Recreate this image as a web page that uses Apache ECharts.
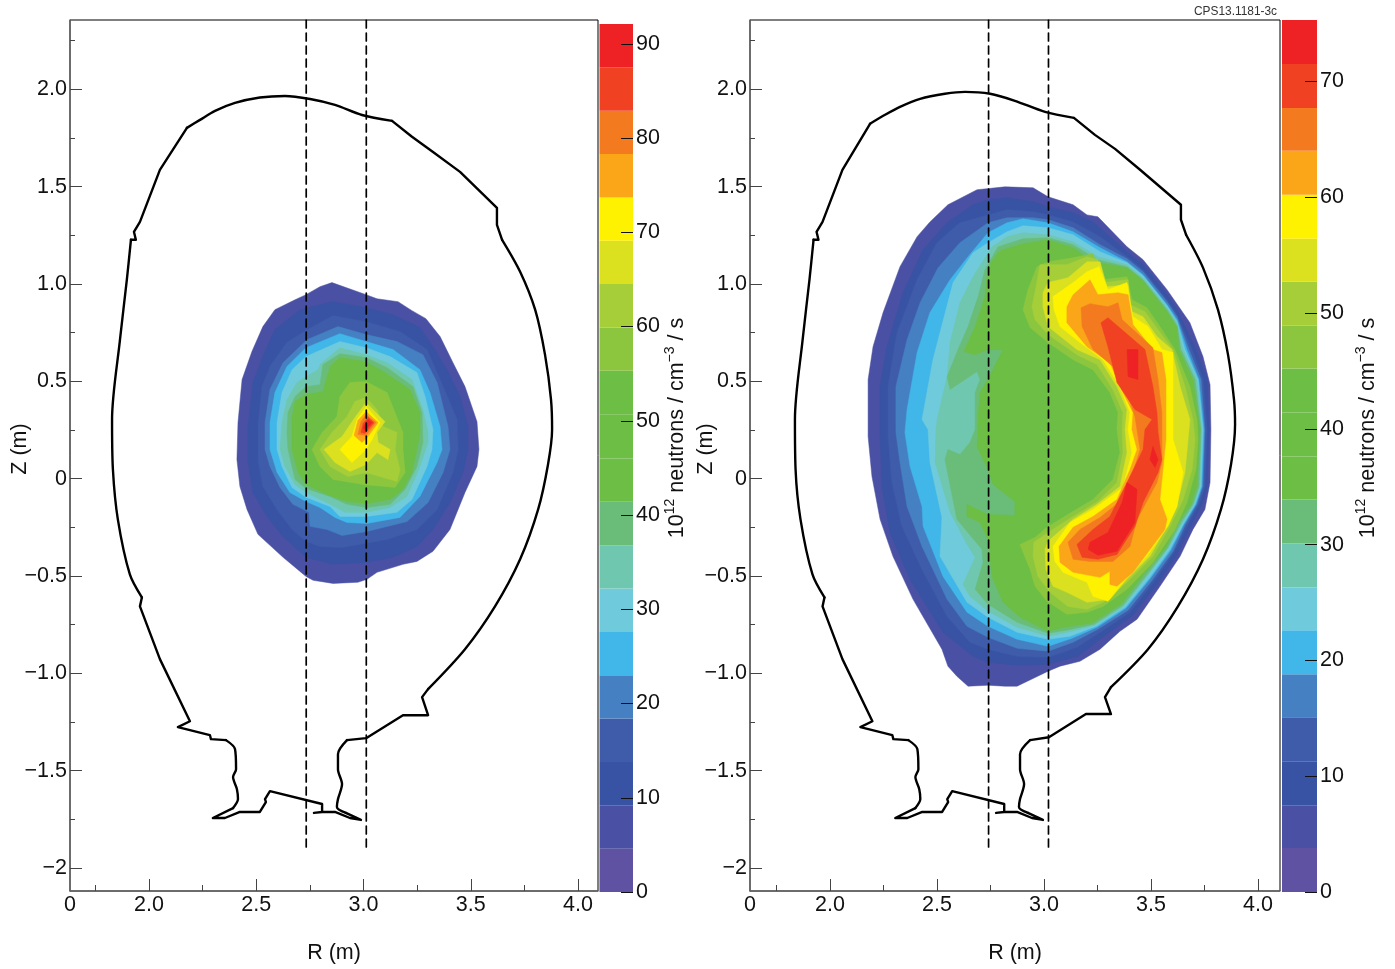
<!DOCTYPE html>
<html><head><meta charset="utf-8">
<style>html,body{margin:0;padding:0;background:#fff}#c{width:1395px;height:969px}</style>
<script src="https://cdn.jsdelivr.net/npm/echarts@6/dist/echarts.min.js"></script>
</head><body><div id="c"></div>
<script>
const colorSteps=['#5F52A3','#4A50A3','#3953A4','#3F5CAB','#4580C3','#41B6E9','#6FCBDC','#6FC7B0','#6ABD78','#6CBE45','#6CBE45','#6CBE45','#8CC63F','#A6CE39','#DBE11F','#FFF200','#FBA619','#F47A20','#F04123','#EE2224'];
const barEdgesLeft=[0,4.6,9.2,13.8,18.4,23.0,27.6,32.2,36.8,41.4,46.0,50.7,55.3,59.9,64.5,69.1,73.7,78.3,82.9,87.5,92.1];
const barEdgesRight=[0,3.8,7.5,11.3,15.1,18.8,22.6,26.3,30.1,33.9,37.6,41.4,45.2,48.9,52.7,56.4,60.2,64.0,67.7,71.5,75.3];
const barTicksLeft=[0,10,20,30,40,50,60,70,80,90];
const barTicksRight=[0,10,20,30,40,50,60,70];
const rTicks=[2,2.5,3,3.5,4];
const rMinor=[1.75,2.25,2.75,3.25,3.75];
const zTicks=[2,1.5,1,0.5,0,-0.5,-1,-1.5,-2];
const zMinor=[2.25,1.75,1.25,0.75,0.25,-0.25,-0.75,-1.25,-1.75];
const dashLeft=[2.733,3.013];
const dashRight=[2.741,3.021];
const dashZ=[2.356,-1.905];

const wallLeft=[[2.177,1.802],[2.238,1.843],[2.308,1.889],[2.401,1.930],[2.517,1.958],[2.634,1.966],[2.751,1.950],[2.867,1.920],[2.993,1.868],[3.133,1.838],[3.226,1.756],[3.324,1.678],[3.450,1.576],[3.622,1.391],[3.622,1.304],[3.646,1.227],[3.730,1.063],[3.800,.868],[3.846,.637],[3.874,.406],[3.879,.252],[3.860,.073],[3.814,-.158],[3.730,-.414],[3.613,-.656],[3.473,-.876],[3.301,-1.081],[3.273,-1.122],[3.301,-1.215],[3.184,-1.215],[3.012,-1.333],[2.923,-1.343],[2.881,-1.415],[2.881,-1.492],[2.900,-1.569],[2.881,-1.646],[2.876,-1.686],[2.918,-1.717],[2.988,-1.753],[2.937,-1.743],[2.867,-1.712],[2.807,-1.712],[2.769,-1.717],[2.807,-1.712],[2.807,-1.671],[2.564,-1.605],[2.541,-1.646],[2.545,-1.661],[2.517,-1.712],[2.424,-1.712],[2.354,-1.743],[2.298,-1.743],[2.392,-1.692],[2.415,-1.646],[2.410,-1.595],[2.392,-1.533],[2.406,-1.492],[2.401,-1.389],[2.359,-1.343],[2.289,-1.338],[2.284,-1.317],[2.135,-1.276],[2.191,-1.246],[2.051,-.927],[1.958,-.656],[1.967,-.610],[1.911,-.492],[1.855,-.209],[1.832,.047],[1.828,.304],[1.865,.714],[1.897,1.022],[1.916,1.227],[1.939,1.227],[1.930,1.268],[1.958,1.319],[2.051,1.586],[2.177,1.802]];
const wallRight=[[2.187,1.823],[2.257,1.869],[2.327,1.910],[2.421,1.951],[2.537,1.977],[2.631,1.987],[2.748,1.977],[2.864,1.941],[3.005,1.884],[3.140,1.853],[3.238,1.766],[3.332,1.694],[3.449,1.587],[3.640,1.407],[3.640,1.330],[3.664,1.253],[3.743,1.084],[3.813,.868],[3.860,.637],[3.888,.406],[3.893,.278],[3.874,.073],[3.827,-.158],[3.743,-.414],[3.626,-.656],[3.486,-.876],[3.313,-1.071],[3.285,-1.122],[3.313,-1.209],[3.196,-1.209],[3.023,-1.328],[2.935,-1.343],[2.888,-1.415],[2.888,-1.492],[2.907,-1.569],[2.888,-1.646],[2.883,-1.686],[2.925,-1.717],[2.995,-1.753],[2.944,-1.743],[2.874,-1.712],[2.814,-1.712],[2.776,-1.717],[2.814,-1.712],[2.814,-1.671],[2.571,-1.605],[2.548,-1.646],[2.552,-1.661],[2.524,-1.712],[2.431,-1.712],[2.361,-1.743],[2.305,-1.743],[2.399,-1.692],[2.422,-1.646],[2.417,-1.595],[2.399,-1.533],[2.413,-1.492],[2.408,-1.389],[2.366,-1.343],[2.296,-1.338],[2.291,-1.317],[2.142,-1.276],[2.198,-1.246],[2.058,-.927],[1.965,-.656],[1.974,-.610],[1.918,-.492],[1.862,-.209],[1.839,.047],[1.836,.304],[1.872,.714],[1.904,1.022],[1.923,1.227],[1.946,1.227],[1.937,1.268],[1.965,1.319],[2.058,1.586],[2.187,1.823]];
// Which stretches of the wall are curved and which are straight: [from, to, curved]
const wallPieces=[[0,9,true],[9,15,false],[15,26,true],[26,31,false],[31,37,true],[37,52,false],[52,58,true],[58,65,false],[65,72,true],[72,77,false]];

// Left panel: contour bands, [colour step, outline in (R, Z)]
const leftStep2=[[2.853,1.007],[3.012,.945],[3.063,.924],[3.161,.909],[3.226,.863],[3.291,.822],[3.357,.730],[3.417,.596],[3.473,.473],[3.529,.293],[3.538,.150],[3.529,.063],[3.473,-.071],[3.403,-.261],[3.324,-.373],[3.249,-.425],[3.184,-.440],[3.063,-.481],[3.016,-.517],[2.974,-.532],[2.858,-.538],[2.765,-.522],[2.732,-.502],[2.625,-.404],[2.508,-.286],[2.457,-.158],[2.424,-.040],[2.410,.098],[2.415,.288],[2.434,.509],[2.480,.653],[2.531,.781],[2.587,.868],[2.681,.919],[2.732,.945],[2.797,.986]];
const leftStep3=[[2.853,.909],[3.012,.878],[3.138,.842],[3.263,.776],[3.324,.678],[3.389,.560],[3.450,.422],[3.487,.268],[3.487,.150],[3.464,.032],[3.403,-.122],[3.324,-.261],[3.249,-.348],[3.138,-.404],[3.012,-.430],[2.858,-.440],[2.732,-.404],[2.625,-.297],[2.550,-.194],[2.485,-.071],[2.462,.083],[2.462,.268],[2.485,.494],[2.531,.627],[2.587,.765],[2.704,.868]];
const leftStep4=[[2.858,.837],[3.012,.806],[3.170,.755],[3.296,.663],[3.357,.509],[3.436,.304],[3.441,.150],[3.417,.032],[3.343,-.158],[3.249,-.261],[3.110,-.312],[2.900,-.353],[2.797,-.348],[2.732,-.322],[2.667,-.261],[2.597,-.158],[2.531,-.040],[2.508,.098],[2.508,.268],[2.527,.473],[2.564,.576],[2.643,.699],[2.737,.765]];
const leftStep5=[[2.881,.781],[3.012,.740],[3.156,.704],[3.277,.637],[3.343,.494],[3.394,.268],[3.403,.150],[3.371,.032],[3.301,-.122],[3.203,-.220],[3.016,-.271],[2.900,-.292],[2.830,-.261],[2.751,-.245],[2.746,-.173],[2.671,-.132],[2.611,-.045],[2.564,.063],[2.541,.150],[2.541,.288],[2.564,.458],[2.625,.596],[2.737,.714]];
const leftStep6=[[2.890,.745],[3.012,.704],[3.138,.663],[3.263,.560],[3.310,.442],[3.357,.268],[3.366,.150],[3.343,.083],[3.263,-.091],[3.170,-.199],[3.016,-.230],[2.923,-.225],[2.867,-.199],[2.797,-.148],[2.732,-.117],[2.657,-.071],[2.597,.032],[2.564,.150],[2.564,.288],[2.587,.442],[2.643,.576],[2.732,.673]];
const leftStep7=[[2.890,.704],[3.012,.673],[3.124,.627],[3.249,.545],[3.287,.422],[3.324,.252],[3.319,.150],[3.296,.063],[3.226,-.107],[3.156,-.173],[3.016,-.194],[2.890,-.194],[2.844,-.143],[2.732,-.096],[2.667,-.045],[2.620,.063],[2.597,.150],[2.597,.288],[2.620,.442],[2.667,.560],[2.732,.627]];
const leftStep8=[[2.890,.673],[3.012,.637],[3.110,.596],[3.226,.509],[3.277,.355],[3.301,.237],[3.301,.186],[3.263,.063],[3.203,-.091],[3.124,-.148],[3.016,-.173],[2.914,-.173],[2.844,-.132],[2.732,-.071],[2.681,-.030],[2.634,.063],[2.611,.150],[2.620,.288],[2.643,.406],[2.690,.494],[2.732,.524],[2.788,.560],[2.797,.586]];
const leftStep9=[[2.890,.642],[2.811,.586],[2.797,.483],[2.732,.473],[2.681,.422],[2.648,.340],[2.643,.237],[2.648,.150],[2.681,-.004],[2.732,-.050],[2.844,-.091],[2.923,-.132],[3.016,-.148],[3.124,-.132],[3.194,-.055],[3.249,.063],[3.277,.186],[3.273,.340],[3.231,.473],[3.110,.570],[3.012,.622]];
const leftStep10=[[2.890,.622],[3.012,.601],[3.091,.550],[3.217,.458],[3.263,.340],[3.263,.237],[3.249,.150],[3.226,.032],[3.184,-.055],[3.124,-.107],[3.016,-.127],[2.923,-.117],[2.830,-.081],[2.732,-.030],[2.695,.032],[2.667,.150],[2.667,.319],[2.681,.396],[2.732,.432],[2.811,.447],[2.844,.576]];
const leftStep13=[[2.937,.494],[2.890,.422],[2.876,.319],[2.807,.237],[2.760,.150],[2.797,.063],[2.858,-.004],[2.998,-.030],[3.147,-.045],[3.194,.032],[3.184,.150],[3.184,.237],[3.110,.442],[3.012,.499]];
const leftStep14=[[3.012,.417],[2.960,.396],[2.923,.319],[2.853,.237],[2.797,.150],[2.844,.063],[2.928,.011],[3.012,.032],[3.077,.011],[3.156,-.014],[3.170,.047],[3.147,.150],[3.156,.237],[3.091,.268],[3.063,.355]];
const leftStep15=[[3.012,.391],[2.960,.314],[2.900,.216],[2.816,.150],[2.867,.083],[2.937,.037],[3.012,.073],[3.063,.134],[3.114,.098],[3.124,.150],[3.068,.186],[3.063,.237],[3.100,.293]];
const leftStep16=[[3.012,.370],[2.970,.304],[2.946,.216],[2.890,.150],[2.946,.083],[3.012,.150],[3.040,.201],[3.077,.288]];
const leftStep17=[[3.012,.345],[3.068,.288],[3.021,.216],[2.993,.186],[2.956,.222],[2.974,.299]];
const leftStep18=[[3.012,.329],[3.058,.288],[3.012,.222],[2.974,.227],[2.988,.293]];
const leftStep19=[[3.021,.314],[3.049,.288],[3.007,.232],[2.988,.237],[2.998,.283]];
const leftStep20=[[3.021,.304],[3.040,.288],[3.007,.247],[2.998,.263]];
const leftBands=[[1,leftStep2],[2,leftStep3],[3,leftStep4],[4,leftStep5],[5,leftStep6],[6,leftStep7],[7,leftStep8],[8,leftStep9],[9,leftStep10],[12,leftStep13],[13,leftStep14],[14,leftStep15],[15,leftStep16],[16,leftStep17],[17,leftStep18],[18,leftStep19],[19,leftStep20]];

// Right panel
const rightStep2=[[2.818,1.499],[2.949,1.494],[3.019,1.448],[3.136,1.407],[3.201,1.355],[3.252,1.345],[3.388,1.191],[3.463,1.125],[3.575,.971],[3.682,.801],[3.743,.627],[3.776,.483],[3.780,.252],[3.776,-.020],[3.752,-.158],[3.696,-.261],[3.636,-.399],[3.542,-.553],[3.435,-.722],[3.355,-.784],[3.262,-.876],[3.168,-.938],[3.075,-.963],[3.019,-.989],[2.874,-1.066],[2.818,-1.066],[2.738,-1.061],[2.645,-1.066],[2.593,-1.015],[2.551,-.963],[2.523,-.876],[2.388,-.620],[2.294,-.399],[2.234,-.209],[2.196,.011],[2.178,.216],[2.178,.509],[2.201,.678],[2.248,.853],[2.327,1.089],[2.407,1.243],[2.467,1.319],[2.551,1.407],[2.687,1.484]];
const rightStep3=[[2.827,1.443],[2.949,1.422],[3.019,1.396],[3.136,1.366],[3.229,1.319],[3.388,1.166],[3.463,1.099],[3.575,.945],[3.622,.868],[3.710,.663],[3.762,.509],[3.771,.252],[3.762,-.040],[3.743,-.122],[3.682,-.250],[3.622,-.389],[3.528,-.543],[3.416,-.702],[3.262,-.825],[3.159,-.912],[3.019,-.953],[2.874,-.958],[2.738,-.943],[2.668,-.912],[2.528,-.789],[2.374,-.517],[2.280,-.276],[2.243,-.040],[2.234,.216],[2.234,.473],[2.266,.678],[2.341,.955],[2.435,1.176],[2.547,1.314],[2.668,1.407],[2.738,1.432]];
const rightStep4=[[2.827,1.381],[2.949,1.371],[3.019,1.355],[3.136,1.319],[3.262,1.243],[3.388,1.140],[3.463,1.073],[3.575,.919],[3.622,.842],[3.692,.663],[3.743,.509],[3.762,.252],[3.752,-.040],[3.724,-.132],[3.668,-.245],[3.607,-.379],[3.514,-.527],[3.402,-.686],[3.262,-.789],[3.154,-.866],[3.019,-.917],[2.874,-.912],[2.738,-.876],[2.654,-.840],[2.547,-.707],[2.430,-.466],[2.336,-.245],[2.290,-.020],[2.271,.216],[2.271,.473],[2.313,.750],[2.407,1.022],[2.500,1.212],[2.607,1.314],[2.738,1.355]];
const rightStep5=[[2.827,1.340],[2.949,1.340],[3.019,1.330],[3.136,1.289],[3.262,1.202],[3.388,1.130],[3.463,1.063],[3.575,.909],[3.622,.832],[3.678,.663],[3.734,.509],[3.752,.252],[3.743,-.040],[3.715,-.132],[3.659,-.240],[3.603,-.373],[3.505,-.522],[3.393,-.676],[3.252,-.773],[3.136,-.840],[3.019,-.886],[2.874,-.871],[2.738,-.815],[2.640,-.758],[2.547,-.620],[2.430,-.348],[2.360,-.143],[2.327,.083],[2.308,.237],[2.308,.473],[2.360,.714],[2.421,.904],[2.505,1.083],[2.607,1.212],[2.738,1.314]];
const rightStep6=[[2.902,1.335],[3.019,1.314],[3.136,1.268],[3.262,1.186],[3.388,1.114],[3.463,1.048],[3.575,.893],[3.622,.817],[3.668,.663],[3.724,.509],[3.748,.252],[3.738,-.040],[3.710,-.132],[3.654,-.235],[3.593,-.368],[3.495,-.515],[3.383,-.666],[3.248,-.763],[3.131,-.820],[3.019,-.861],[2.874,-.825],[2.738,-.758],[2.640,-.686],[2.528,-.502],[2.435,-.245],[2.430,-.143],[2.374,.063],[2.350,.237],[2.360,.355],[2.407,.648],[2.467,.853],[2.561,1.022],[2.645,1.140],[2.738,1.263],[2.827,1.314]];
const rightStep7=[[2.902,1.299],[3.019,1.289],[3.136,1.253],[3.262,1.166],[3.388,1.109],[3.463,1.042],[3.575,.888],[3.622,.806],[3.659,.663],[3.720,.509],[3.743,.252],[3.734,-.040],[3.706,-.132],[3.650,-.235],[3.589,-.363],[3.491,-.512],[3.379,-.661],[3.243,-.758],[3.122,-.809],[3.019,-.825],[2.874,-.789],[2.738,-.712],[2.640,-.635],[2.514,-.399],[2.523,-.199],[2.467,.083],[2.458,.252],[2.430,.304],[2.481,.611],[2.575,1.007],[2.668,1.160],[2.738,1.212],[2.827,1.268]];
const rightStep8=[[2.902,1.263],[3.019,1.253],[3.136,1.217],[3.252,1.140],[3.388,1.099],[3.463,1.032],[3.575,.878],[3.622,.801],[3.650,.663],[3.715,.509],[3.738,.252],[3.729,-.040],[3.701,-.132],[3.645,-.230],[3.579,-.358],[3.481,-.502],[3.374,-.656],[3.238,-.753],[3.112,-.789],[3.019,-.809],[2.874,-.763],[2.738,-.681],[2.654,-.604],[2.621,-.543],[2.678,-.404],[2.640,-.338],[2.561,-.173],[2.491,.083],[2.495,.252],[2.500,.304],[2.547,.524],[2.561,.699],[2.607,.904],[2.668,1.037],[2.757,1.191],[2.827,1.243]];
const rightStep9=[[2.902,1.232],[3.019,1.237],[3.136,1.202],[3.248,1.125],[3.388,1.089],[3.463,1.022],[3.575,.868],[3.622,.786],[3.640,.663],[3.706,.509],[3.734,.252],[3.724,-.040],[3.696,-.132],[3.640,-.225],[3.577,-.358],[3.477,-.499],[3.369,-.650],[3.234,-.748],[3.107,-.778],[3.019,-.794],[2.874,-.737],[2.738,-.645],[2.678,-.568],[2.715,-.430],[2.710,-.363],[2.593,-.209],[2.537,.098],[2.551,.150],[2.607,.124],[2.654,.186],[2.678,.252],[2.678,.442],[2.701,.509],[2.687,.550],[2.561,.458],[2.547,.524],[2.598,.663],[2.645,.781],[2.692,.935],[2.724,1.073],[2.785,1.191]];
const rightStep10=[[2.808,1.176],[2.902,1.207],[3.019,1.227],[3.136,1.186],[3.229,1.114],[3.388,1.083],[3.463,1.017],[3.575,.858],[3.622,.776],[3.631,.663],[3.696,.509],[3.729,.252],[3.715,-.040],[3.687,-.132],[3.631,-.220],[3.570,-.353],[3.467,-.491],[3.360,-.645],[3.224,-.742],[3.098,-.763],[3.019,-.784],[2.888,-.712],[2.808,-.635],[2.757,-.502],[2.738,-.312],[2.701,-.225],[2.640,-.194],[2.640,-.132],[2.738,-.184],[2.864,-.189],[2.864,-.117],[2.762,-.030],[2.738,.047],[2.687,.165],[2.692,.252],[2.692,.304],[2.701,.442],[2.738,.509],[2.808,.663],[2.738,.663],[2.678,.637],[2.626,.653],[2.678,.781],[2.724,.935],[2.738,1.089],[2.785,1.160]];
const rightStep13=[[2.967,1.089],[3.019,1.114],[3.136,1.135],[3.229,1.155],[3.271,1.022],[3.388,1.037],[3.411,.919],[3.481,.878],[3.542,.781],[3.612,.663],[3.682,.473],[3.715,.304],[3.720,.201],[3.710,.047],[3.668,-.122],[3.612,-.261],[3.509,-.430],[3.388,-.568],[3.276,-.656],[3.201,-.686],[3.107,-.697],[3.014,-.630],[2.958,-.553],[2.935,-.466],[2.888,-.338],[2.958,-.302],[3.014,-.250],[3.136,-.168],[3.229,-.107],[3.322,-.004],[3.355,.134],[3.341,.252],[3.346,.340],[3.308,.442],[3.229,.560],[3.136,.611],[3.019,.699],[2.935,.776],[2.902,.868],[2.925,.971]];
const rightStep14=[[2.981,1.099],[3.107,1.099],[3.201,1.140],[3.252,1.125],[3.285,1.007],[3.393,1.022],[3.402,.893],[3.472,.858],[3.533,.765],[3.603,.663],[3.659,.473],[3.696,.304],[3.706,.201],[3.692,.047],[3.650,-.107],[3.589,-.245],[3.509,-.399],[3.388,-.532],[3.276,-.635],[3.201,-.671],[3.112,-.656],[3.028,-.584],[2.972,-.502],[2.949,-.399],[2.953,-.327],[3.019,-.276],[3.136,-.194],[3.252,-.117],[3.341,-.020],[3.369,.134],[3.365,.252],[3.369,.340],[3.322,.458],[3.248,.586],[3.154,.637],[3.019,.740],[2.958,.817],[2.944,.883],[2.967,1.007]];
const rightStep15=[[2.995,.955],[3.019,1.007],[3.112,1.032],[3.201,1.114],[3.262,1.114],[3.294,.986],[3.393,.996],[3.411,.858],[3.463,.832],[3.528,.730],[3.598,.663],[3.636,.473],[3.682,.304],[3.659,.032],[3.636,-.071],[3.575,-.245],[3.495,-.399],[3.388,-.517],[3.308,-.620],[3.201,-.635],[3.107,-.584],[3.042,-.553],[3.009,-.466],[3.005,-.363],[3.019,-.322],[3.136,-.209],[3.248,-.132],[3.355,-.040],[3.388,.134],[3.379,.252],[3.388,.355],[3.341,.473],[3.262,.611],[3.154,.663],[3.019,.781],[2.995,.883]];
const rightStep16=[[3.042,.935],[3.136,1.007],[3.201,1.063],[3.257,1.089],[3.299,.971],[3.388,1.007],[3.402,.904],[3.416,.832],[3.486,.781],[3.551,.663],[3.603,.648],[3.603,.442],[3.603,.201],[3.650,.032],[3.622,-.143],[3.579,-.245],[3.481,-.399],[3.369,-.532],[3.299,-.630],[3.229,-.604],[3.201,-.532],[3.089,-.481],[3.051,-.425],[3.042,-.348],[3.122,-.225],[3.229,-.158],[3.369,-.045],[3.411,.134],[3.393,.252],[3.402,.340],[3.355,.473],[3.276,.611],[3.168,.699],[3.075,.781],[3.047,.868]];
const rightStep17=[[3.107,.883],[3.136,.945],[3.215,1.022],[3.252,.945],[3.346,.955],[3.393,.945],[3.416,.791],[3.509,.663],[3.551,.648],[3.570,.509],[3.570,.201],[3.542,-.107],[3.575,-.209],[3.565,-.261],[3.416,-.481],[3.341,-.553],[3.308,-.543],[3.308,-.476],[3.262,-.507],[3.136,-.481],[3.075,-.430],[3.070,-.348],[3.136,-.250],[3.229,-.194],[3.341,-.107],[3.402,.047],[3.435,.150],[3.411,.252],[3.416,.340],[3.369,.442],[3.308,.596],[3.201,.678],[3.107,.801]];
const rightStep18=[[3.173,.878],[3.215,.899],[3.299,.883],[3.346,.904],[3.365,.817],[3.509,.673],[3.533,.509],[3.551,.340],[3.551,.083],[3.528,-.020],[3.435,-.209],[3.402,-.348],[3.322,-.425],[3.215,-.425],[3.136,-.414],[3.112,-.327],[3.168,-.261],[3.262,-.199],[3.355,-.117],[3.416,.032],[3.449,.150],[3.425,.319],[3.393,.422],[3.322,.576],[3.229,.663],[3.178,.781]];
const rightStep19=[[3.266,.801],[3.299,.827],[3.472,.663],[3.509,.473],[3.528,.340],[3.533,.237],[3.551,.098],[3.533,.032],[3.463,-.122],[3.425,-.245],[3.341,-.389],[3.252,-.414],[3.178,-.404],[3.154,-.338],[3.229,-.261],[3.308,-.194],[3.388,-.020],[3.463,.150],[3.472,.252],[3.505,.304],[3.425,.355],[3.341,.494],[3.299,.678]];
const rightStep20a=[[3.388,.663],[3.439,.663],[3.439,.509],[3.393,.524]];
const rightStep20b=[[3.509,.165],[3.533,.098],[3.519,.058],[3.495,.098]];
const rightStep20c=[[3.388,-.020],[3.435,-.055],[3.425,-.225],[3.341,-.373],[3.252,-.394],[3.206,-.363],[3.215,-.327],[3.299,-.276],[3.365,-.122]];
const rightBands=[[1,rightStep2],[2,rightStep3],[3,rightStep4],[4,rightStep5],[5,rightStep6],[6,rightStep7],[7,rightStep8],[8,rightStep9],[9,rightStep10],[12,rightStep13],[13,rightStep14],[14,rightStep15],[15,rightStep16],[16,rightStep17],[17,rightStep18],[18,rightStep19],[19,rightStep20a],[19,rightStep20b],[19,rightStep20c]];

const FONT='"Liberation Sans",Arial,Helvetica,sans-serif';
const FS=21.5;
const fmtZ=v=>v===0?'0':(v===-2?'\u22122':(v<0?'\u2212':'')+Math.abs(v).toFixed(1));
function bandSeries(bands,xi,yi){return{type:'custom',xAxisIndex:xi,yAxisIndex:yi,silent:true,clip:true,z:1,
  data:bands.map((b,i)=>[b[1][0][0],b[1][0][1],i]),encode:{x:0,y:1},
  renderItem:(p,api)=>{const b=bands[api.value(2)];
    return{type:'polygon',shape:{points:b[1].map(q=>api.coord(q))},style:{fill:colorSteps[b[0]],stroke:colorSteps[b[0]],lineWidth:0.5}};}};}
function barSeries(edges,xi,yi){return{type:'custom',xAxisIndex:xi,yAxisIndex:yi,silent:true,z:1,
  data:edges.slice(0,-1).map((e,i)=>[0,e,edges[i+1],i]),encode:{x:0,y:[1,2]},
  renderItem:(p,api)=>{const a=api.coord([0,api.value(1)]),b=api.coord([1,api.value(2)]);
    return{type:'rect',shape:{x:a[0],y:b[1],width:b[0]-a[0],height:a[1]-b[1]},style:{fill:colorSteps[api.value(3)]}};}};}
function lineS(data,xi,yi,w,dash,smooth){return{type:'line',xAxisIndex:xi,yAxisIndex:yi,data,showSymbol:false,symbol:'none',silent:true,z:3,animation:false,smooth:smooth||false,
  lineStyle:{color:'#000',width:w,type:dash?[8,5]:'solid',join:'round',cap:'round'}};}
function wallSeries(wall,xi,yi){return wallPieces.map(p=>lineS(wall.slice(p[0],p[1]+1),xi,yi,2.4,false,p[2]?0.3:false));}

const axLine={show:true,onZero:false,lineStyle:{color:'#666',width:1.5}};
const noLine={show:false,onZero:false};
const tickStyle={color:'#444',width:1};
const lab={fontFamily:FONT,fontSize:FS,color:'#111'};
const ZMIN=-2.118,ZMAX=2.356;
function xAxes(gi,min,max){return[
 {type:'value',gridIndex:gi,min,max,position:'bottom',splitLine:{show:false},axisLine:axLine,name:'R (m)',nameLocation:'middle',nameGap:51,
  nameTextStyle:{fontFamily:FONT,fontSize:FS,color:'#111'},
  axisTick:{inside:true,length:12,lineStyle:tickStyle,customValues:rTicks},
  axisLabel:{...lab,margin:3,customValues:[min,...rTicks],formatter:v=>v===min?'0':v.toFixed(1),showMinLabel:true,showMaxLabel:true}},
 {type:'value',gridIndex:gi,min,max,position:'bottom',splitLine:{show:false},axisLine:noLine,axisLabel:{show:false},
  axisTick:{inside:true,length:6,lineStyle:tickStyle,customValues:rMinor}}];}
function yAxes(gi){return[
 {type:'value',gridIndex:gi,min:ZMIN,max:ZMAX,position:'left',splitLine:{show:false},axisLine:axLine,
  axisTick:{inside:true,length:12,lineStyle:tickStyle,customValues:zTicks},
  axisLabel:{...lab,margin:3,padding:[4,0,0,0],customValues:zTicks,formatter:fmtZ}},
 {type:'value',gridIndex:gi,min:ZMIN,max:ZMAX,position:'left',splitLine:{show:false},axisLine:noLine,axisLabel:{show:false},
  axisTick:{inside:true,length:5,lineStyle:tickStyle,customValues:zMinor}}];}
function barX(gi){return{type:'value',gridIndex:gi,min:0,max:1,show:false};}
function barY(gi,max,ticks){return{type:'value',gridIndex:gi,min:0,max,position:'right',z:5,splitLine:{show:false},axisLine:noLine,
  axisTick:{inside:true,length:12,lineStyle:{color:'#111',width:1},customValues:ticks},
  axisLabel:{...lab,margin:3,padding:[4,0,0,0],customValues:ticks}};}
const XL=[1.632,4.093],XR=[1.626,4.103];
const colorTitle={text:'{a|10}{s|12}{a| neutrons / cm}{s|\u22123}{a| / s}',rich:{a:{fontFamily:FONT,fontSize:FS,fill:'#111',color:'#111',lineHeight:27},s:{fontFamily:FONT,fontSize:14,fill:'#111',color:'#111',verticalAlign:'top',lineHeight:27}},align:'center',verticalAlign:'middle'};
const chart=echarts.init(document.getElementById('c'),null,{renderer:'canvas'});
chart.setOption({animation:false,backgroundColor:'#fff',
 grid:[
  {left:70,top:20,width:528,height:872,show:true,borderColor:'#000',borderWidth:1,backgroundColor:'transparent'},
  {left:750,top:20,width:530,height:872,show:true,borderColor:'#000',borderWidth:1,backgroundColor:'transparent'},
  {left:599.5,top:24,width:33.5,height:868},
  {left:1282,top:20,width:35,height:872}],
 xAxis:[...xAxes(0,XL[0],XL[1]),...xAxes(1,XR[0],XR[1]),barX(2),barX(3)],
 yAxis:[...yAxes(0),...yAxes(1),barY(2,92.1,barTicksLeft),barY(3,75.3,barTicksRight)],
 series:[
  bandSeries(leftBands,0,0),
  bandSeries(rightBands,2,2),
  ...wallSeries(wallLeft,0,0),
  ...wallSeries(wallRight,2,2),
  ...dashLeft.map(r=>lineS([[r,dashZ[0]],[r,dashZ[1]]],0,0,1.7,true)),
  ...dashRight.map(r=>lineS([[r,dashZ[0]],[r,dashZ[1]]],2,2,1.7,true)),
  barSeries(barEdgesLeft,4,4),
  barSeries(barEdgesRight,5,5)],
 graphic:[
  {type:'text',x:20,y:449,rotation:Math.PI/2,style:{text:'Z (m)',font:FS+'px '+FONT,fill:'#111',align:'center',verticalAlign:'middle'}},
  {type:'text',x:706,y:449,rotation:Math.PI/2,style:{text:'Z (m)',font:FS+'px '+FONT,fill:'#111',align:'center',verticalAlign:'middle'}},
  {type:'text',x:677,y:428,rotation:Math.PI/2,style:{...colorTitle}},
  {type:'text',x:1368,y:428,rotation:Math.PI/2,style:{...colorTitle}},
  {type:'text',x:1194,y:12,style:{text:'CPS13.1181-3c',font:'11.9px '+FONT,fill:'#333',align:'left',verticalAlign:'middle'}}
 ]});
</script></body></html>
